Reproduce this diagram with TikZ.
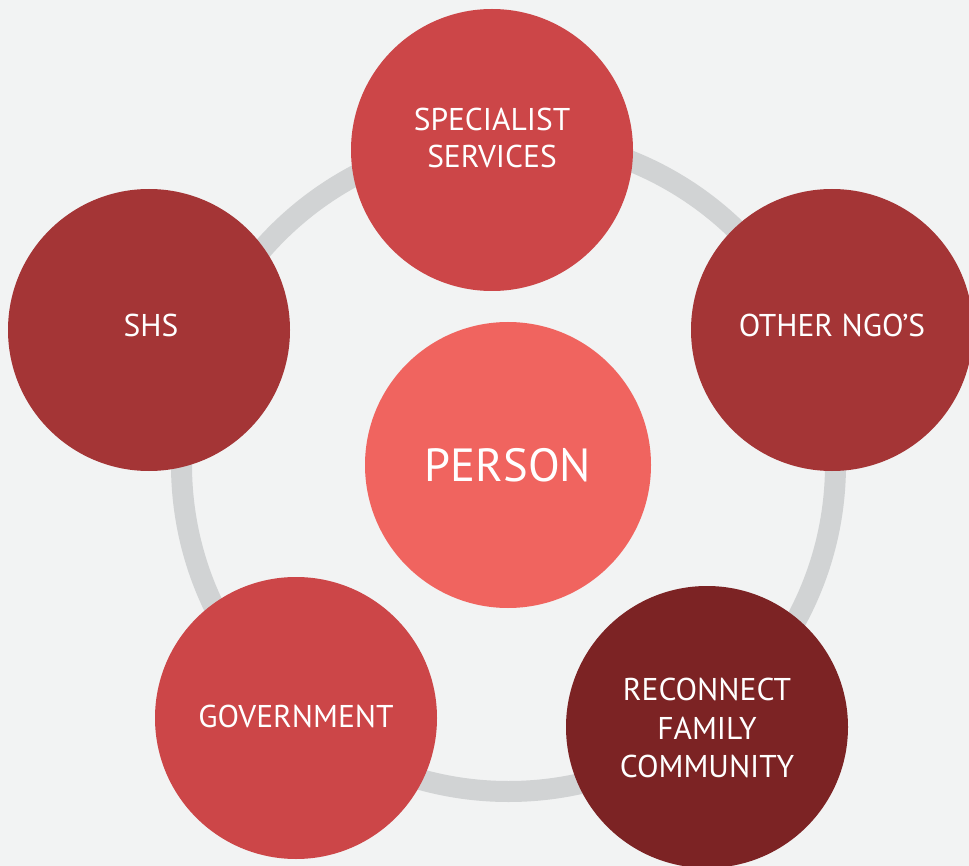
\documentclass[tikz,border=0pt]{standalone}
\usepackage{fontspec}
\setmainfont{PT Sans}
\definecolor{bgc}{HTML}{F2F3F3}
\definecolor{ringc}{HTML}{D1D3D4}
\definecolor{redmid}{HTML}{CC4648}
\definecolor{reddark}{HTML}{A43536}
\definecolor{reddeep}{HTML}{7C2324}
\definecolor{redlight}{HTML}{F0645F}
\begin{document}
\begin{tikzpicture}[x=1pt,y=-1pt,
  disc/.style={circle,minimum size=282pt,inner sep=0pt},
  lbl/.style={text=white,align=center,inner sep=0pt,
    font=\fontsize{31.5}{37}\selectfont},
  hub/.style={circle,minimum size=286pt,inner sep=0pt,text=white,fill=redlight,
    font=\fontsize{46.5}{52}\selectfont}]
  % page and ring
  \fill[bgc] (0,0) rectangle (969,866);
  \useasboundingbox (0,0) rectangle (969,866);
  \coordinate (c) at (508.5,464.5);
  \draw[ringc,line width=21pt] (c) circle[radius=327];
  % outer discs
  \node[disc,fill=redmid] (spec) at (492,150) {};
  \node[disc,fill=reddark] (shs) at (149,330) {};
  \node[disc,fill=reddark] (ngo) at (832,330) {};
  \node[disc,fill=redmid] (gov) at (296,718) {};
  \node[disc,fill=reddeep] (rec) at (707,727) {};
  % labels
  \node[lbl] (specT) at (492,138) {SPECIALIST\\SERVICES};
  \node[lbl] (shsT) at (151,325) {SHS};
  \node[lbl] (ngoT) at (832,325) {OTHER NGO’S};
  \node[lbl] (govT) at (296,716) {GOVERNMENT};
  \node[lbl,font=\fontsize{31.5}{38.5}\selectfont] (recT) at (707,728) {RECONNECT\\FAMILY\\COMMUNITY};
  % centre disc
  \node[hub] (person) at (508,465) {PERSON};
\end{tikzpicture}
\end{document}
